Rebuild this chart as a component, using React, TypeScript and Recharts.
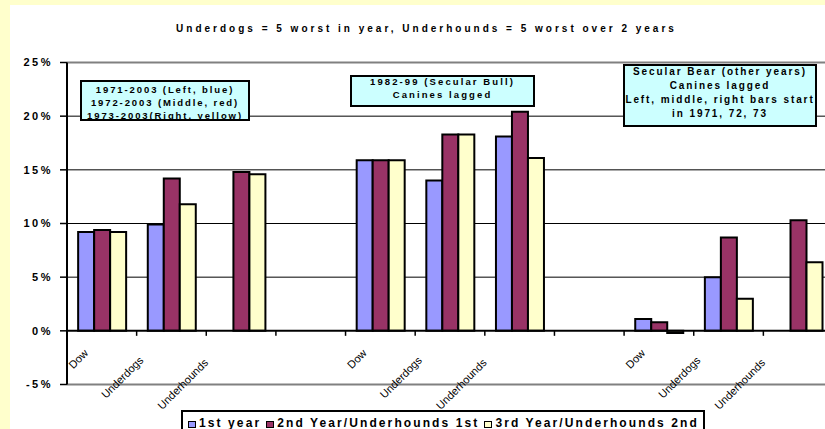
import React from "react";
import { BarChart, Bar, XAxis, YAxis, CartesianGrid, ReferenceLine } from "recharts";

const categories = ["Dow", "Underdogs", "Underhounds", "", "Dow", "Underdogs", "Underhounds", "", "Dow", "Underdogs", "Underhounds"];
const firstYear = [9.2, 9.9, null, null, 15.9, 14.0, 18.1, null, 1.1, 5.0, null];
const secondYear = [9.4, 14.2, 14.8, null, 15.9, 18.3, 20.4, null, 0.8, 8.7, 10.3];
const thirdYear = [9.2, 11.8, 14.6, null, 15.9, 18.3, 16.1, null, -0.2, 3.0, 6.4];
const seriesNames = ["1st year", "2nd Year/Underhounds 1st", "3rd Year/Underhounds 2nd"];
const seriesColors = ["#9999FF", "#993366", "#FFFFCC"];
const yTicks = [-5, 0, 5, 10, 15, 20, 25];
const gridValues = [5, 10, 15, 20];
const title = "Underdogs = 5 worst in year, Underhounds = 5 worst over 2 years";
const noteLeft = ["1971-2003 (Left, blue)", "1972-2003 (Middle, red)", "1973-2003(Right, yellow)"];
const noteMiddle = ["1982-99 (Secular Bull)", "Canines lagged"];
const noteRight = ["Secular Bear (other years)", "Canines lagged", "Left, middle, right bars start", "in 1971, 72, 73"];

const FONT = "'Liberation Sans', Arial, Helvetica, sans-serif";
const CHART_W = 833;
const CHART_H = 429;
const PLOT_LEFT = 67;
const PLOT_TOP = 62.5;
const PLOT_BOTTOM = 384.5;
const PLOT_H = PLOT_BOTTOM - PLOT_TOP;
const BAND = (CHART_W - PLOT_LEFT) / categories.length;
// where the 0% line sits inside the plot (domain -5..25)
const ZERO_Y = PLOT_TOP + (PLOT_H * 25) / 30;

const data = categories.map((_, i) => ({
  id: i,
  first: firstYear[i],
  second: secondYear[i],
  third: thirdYear[i],
}));

function CategoryTick(props: any) {
  const { x, payload } = props;
  const label = categories[payload.value] ?? "";
  const n = label.length;
  const ex = x - 13 - 2.4 * (n - 3);
  const ey = ZERO_Y + 23 + 1.2 * (n - 3);
  return (
    <g>
      <line x1={x - BAND / 2} x2={x - BAND / 2} y1={ZERO_Y} y2={ZERO_Y + 5} stroke="#000" strokeWidth={1.5} />
      {n > 0 && (
        <text
          x={ex}
          y={ey}
          textAnchor="end"
          transform={`rotate(-45 ${ex} ${ey})`}
          fontSize={11}
          fontFamily={FONT}
          fill="#000"
        >
          {label}
        </text>
      )}
    </g>
  );
}

function PercentTick(props: any) {
  const { x, y, payload } = props;
  return (
    <text
      x={x}
      y={y}
      dy="0.36em"
      textAnchor="end"
      fontSize={11}
      fontWeight="bold"
      fontFamily={FONT}
      letterSpacing={2.5}
      fill="#000"
    >
      {`${payload.value}%`}
    </text>
  );
}

function NoteBox({ lines, left, top, width, height, fontSize, lineHeight, textTop, spacing }: any) {
  return (
    <div
      style={{
        position: "absolute",
        left,
        top,
        width,
        height,
        boxSizing: "border-box",
        border: "2px solid #000",
        background: "#CCFFFF",
      }}
    >
      <div
        style={{
          position: "absolute",
          left: -10,
          right: -10,
          top: textTop,
          textAlign: "center",
          fontSize,
          lineHeight: `${lineHeight}px`,
          fontWeight: "bold",
          letterSpacing: spacing,
          whiteSpace: "nowrap",
          color: "#000",
        }}
      >
        {lines.map((l: string, i: number) => (
          <div key={i}>{l}</div>
        ))}
      </div>
    </div>
  );
}

export default function App() {
  return (
    <div
      style={{
        position: "absolute",
        left: 0,
        top: 0,
        width: 825,
        height: 429,
        overflow: "hidden",
        background: "#FFFFCC",
        fontFamily: FONT,
      }}
    >
      <div style={{ position: "absolute", left: 10, top: 5, width: 840, height: 440, background: "#FFFFFF" }} />

      <div style={{ position: "absolute", left: 0, top: 0 }}>
        <BarChart
          width={CHART_W}
          height={CHART_H}
          data={data}
          margin={{ top: PLOT_TOP, right: 0, bottom: 0, left: 0 }}
          barGap={0}
          barCategoryGap="16%"
        >
          <CartesianGrid horizontal vertical={false} horizontalValues={gridValues} stroke="#000" strokeWidth={1} />
          <XAxis
            dataKey="id"
            type="category"
            height={CHART_H - PLOT_BOTTOM}
            axisLine={false}
            tickLine={false}
            interval={0}
            tick={<CategoryTick />}
          />
          <YAxis
            width={PLOT_LEFT}
            type="number"
            domain={[-5, 25]}
            ticks={yTicks}
            interval={0}
            axisLine={{ stroke: "#000", strokeWidth: 2 }}
            tickLine={{ stroke: "#000", strokeWidth: 1.5 }}
            tickSize={7}
            tickMargin={7}
            tick={<PercentTick />}
          />
          <Bar dataKey="first" name={seriesNames[0]} fill={seriesColors[0]} stroke="#000" strokeWidth={2} isAnimationActive={false} />
          <Bar dataKey="second" name={seriesNames[1]} fill={seriesColors[1]} stroke="#000" strokeWidth={2} isAnimationActive={false} />
          <Bar dataKey="third" name={seriesNames[2]} fill={seriesColors[2]} stroke="#000" strokeWidth={2} isAnimationActive={false} />
          <ReferenceLine y={25} stroke="#808080" strokeWidth={2} />
          <ReferenceLine y={-5} stroke="#808080" strokeWidth={2} />
          <ReferenceLine y={0} stroke="#000" strokeWidth={2} />
        </BarChart>
      </div>

      <div
        style={{
          position: "absolute",
          left: 0,
          width: 853,
          top: 23,
          textAlign: "center",
          fontSize: 10,
          lineHeight: "12px",
          fontWeight: "bold",
          letterSpacing: 3,
          whiteSpace: "nowrap",
          color: "#000",
        }}
      >
        {title}
      </div>

      <NoteBox lines={noteLeft} left={80} top={80} width={170} height={41} fontSize={9.5} lineHeight={12.7} textTop={2.2} spacing={1.9} />
      <NoteBox lines={noteMiddle} left={350} top={75} width={185} height={32} fontSize={9.5} lineHeight={13} textTop={-2} spacing={2.1} />
      <NoteBox lines={noteRight} left={623} top={64} width={194} height={63} fontSize={10} lineHeight={13.9} textTop={-0.6} spacing={1.9} />

      <div
        style={{
          position: "absolute",
          left: 181,
          top: 410,
          height: 24,
          boxSizing: "border-box",
          border: "2px solid #000",
          background: "#FFFFFF",
          display: "flex",
          alignItems: "flex-start",
          paddingTop: 4,
          paddingLeft: 5,
          paddingRight: 4,
          fontSize: 12,
          lineHeight: "14px",
          fontWeight: "bold",
          letterSpacing: 2.1,
          whiteSpace: "nowrap",
          color: "#000",
        }}
      >
        {seriesNames.map((name, i) => (
          <div key={name} style={{ display: "flex", alignItems: "center", marginRight: i < seriesNames.length - 1 ? 5 : 0 }}>
            <span
              style={{
                display: "inline-block",
                width: 6,
                height: 5,
                border: "1px solid #000",
                background: seriesColors[i],
                marginRight: 3,
                marginTop: 2,
              }}
            />
            <span>{name}</span>
          </div>
        ))}
      </div>
    </div>
  );
}
